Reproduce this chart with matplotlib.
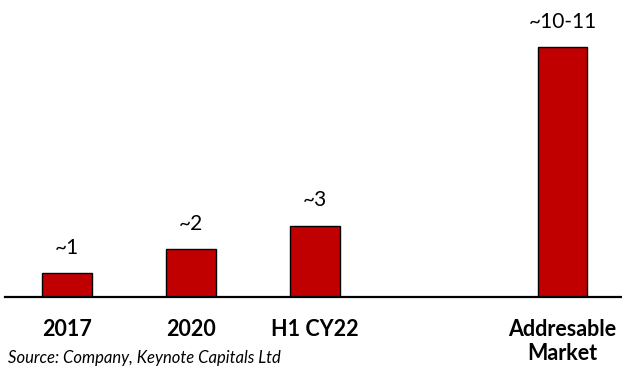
import matplotlib
matplotlib.use("Agg")
import matplotlib.pyplot as plt

categories = ["2017", "2020", "H1 CY22", "", "Addresable\nMarket"]
values = [1, 2, 3, None, 10.5]
value_labels = ["~1", "~2", "~3", "", "~10-11"]
source_text = "Source: Company, Keynote Capitals Ltd"

plt.rcParams['font.family'] = ['Lato', 'DejaVu Sans']

W, H = 622, 367
fig = plt.figure(figsize=(W / 100, H / 100), dpi=100)
base_px = 297
ax = fig.add_axes([5 / W, (H - base_px) / H, 1 - 5 / W, base_px / H])

pos = [i for i, v in enumerate(values) if v is not None]
vals = [values[i] for i in pos]
ax.bar(pos, vals, width=0.4, color="#C00000", edgecolor="black", linewidth=1.0, zorder=2)

for i in pos:
    ax.text(i, values[i] + 0.65, value_labels[i], ha="center", va="bottom",
            fontsize=15, color="black")

ax.set_xlim(-0.5, 4.48)
ax.set_ylim(0, 12.48)
for s in ["top", "right", "left"]:
    ax.spines[s].set_visible(False)
ax.spines["bottom"].set_linewidth(1.6)
ax.spines["bottom"].set_zorder(3)
ax.set_yticks([])
ax.set_xticks(pos)
ax.set_xticklabels([categories[i] for i in pos], fontsize=15.5, fontweight="bold",
                   linespacing=1.15, va="top")
ax.tick_params(axis="x", length=0, pad=16)

fig.text(8 / W, 0.5 / H, source_text, fontsize=12, style="italic",
         color="black", ha="left", va="bottom")

fig.savefig("out.png", dpi=100)
